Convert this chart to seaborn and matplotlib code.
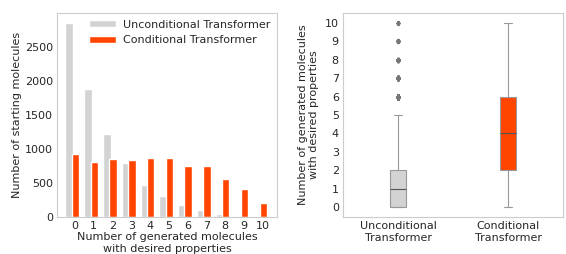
import numpy as np
import matplotlib
matplotlib.use('Agg')
import matplotlib.pyplot as plt
import pandas as pd
import seaborn as sns

# counts of starting molecules per number of generated hits (0..10)
n_hits = np.arange(11)
uncond_counts = [2850, 1870, 1210, 790, 470, 300, 170, 100, 40, 12, 5]
cond_counts = [930, 810, 850, 840, 870, 860, 750, 750, 560, 410, 200]

model_names = ['Unconditional Transformer', 'Conditional Transformer']
box_labels = ['Unconditional\nTransformer', 'Conditional\nTransformer']
grey = '#d3d3d3'
orange = '#ff4500'

sns.set_style('whitegrid')
plt.rcParams['font.family'] = ['DejaVu Sans']
plt.rcParams['font.size'] = 8

fig = plt.figure(figsize=(5.66, 2.54), dpi=100)
ax1 = fig.add_axes([0.101, 0.146, 0.388, 0.803])
ax2 = fig.add_axes([0.606, 0.146, 0.389, 0.803])

# bar chart, grey bars a bit to the left of the orange ones
sns.barplot(x=n_hits - 0.3, y=uncond_counts, native_scale=True, width=0.42,
            color=grey, saturation=1, ax=ax1, label=model_names[0])
sns.barplot(x=n_hits + 0.03, y=cond_counts, native_scale=True, width=0.4,
            color=orange, saturation=1, ax=ax1, label=model_names[1])
ax1.set_xticks(n_hits)
ax1.set_xticklabels([str(i) for i in n_hits])
ax1.set_xlim(-0.95, 10.75)
ax1.set_xlabel('Number of generated molecules\nwith desired properties', labelpad=1)
ax1.set_ylabel('Number of starting molecules', labelpad=2)
ax1.grid(False)
ax1.legend(loc='upper right', frameon=False, handlelength=2.4, handleheight=0.6,
           borderaxespad=0.2, handletextpad=0.6, fontsize=8)

# box plot built from the same distributions
box_df = pd.DataFrame({
    'model': np.repeat(box_labels, [sum(uncond_counts), sum(cond_counts)]),
    'hits': np.concatenate([np.repeat(n_hits, uncond_counts),
                            np.repeat(n_hits, cond_counts)]),
})
sns.boxplot(data=box_df, x='model', y='hits', hue='model', palette=[grey, orange],
            width=0.15, linewidth=0.8, linecolor='#999999', saturation=1,
            medianprops={'color': '#555555'},
            flierprops={'marker': 'd', 'markersize': 2.2, 'markerfacecolor': '#777777',
                        'markeredgecolor': '#777777'},
            ax=ax2, legend=False)
ax2.set_yticks(range(0, 11))
ax2.set_ylim(-0.54, 10.54)
ax2.set_xlabel('')
ax2.set_ylabel('Number of generated molecules\nwith desired properties', labelpad=4)
ax2.grid(False)

for ax in (ax1, ax2):
    ax.tick_params(length=0, pad=3, labelsize=8)

fig.savefig('out.png', dpi=100)
